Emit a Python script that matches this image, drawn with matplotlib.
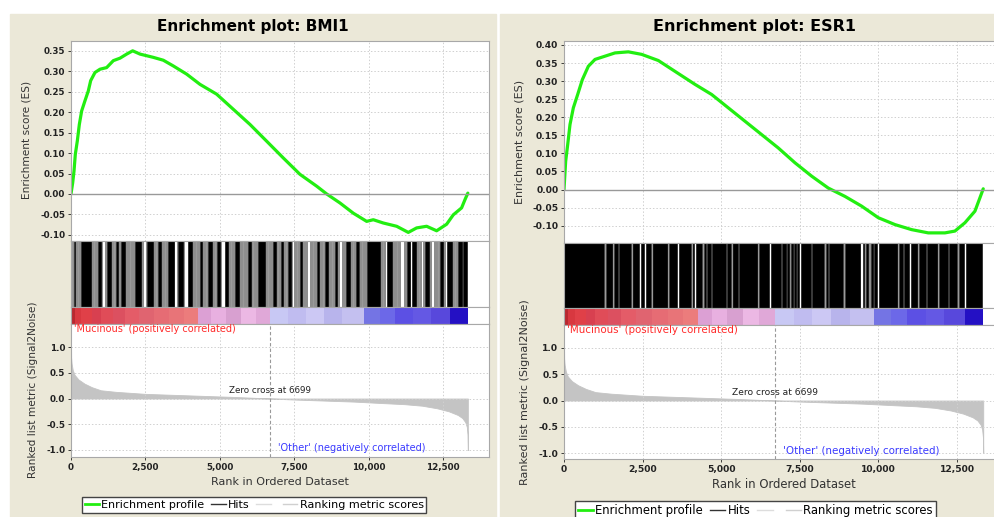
import matplotlib
matplotlib.use("Agg")
import matplotlib.pyplot as plt
from matplotlib.patches import Rectangle
from matplotlib.lines import Line2D

W, H = 995, 517

# ---- data ----
n_genes = 13335
zero_cross = 6699

# ranked list metric (same ranked list for both plots)
metric_rank = [0, 5, 20, 60, 120, 250, 450, 700, 1000, 1500, 2000, 2500, 3500, 4500,
               5500, 6699, 7500, 8500, 9500, 10500, 11200, 11800, 12300, 12700, 13000,
               13150, 13250, 13300, 13325, 13335]
metric_val = [1.18, 0.8, 0.68, 0.55, 0.46, 0.37, 0.29, 0.22, 0.16, 0.13, 0.11, 0.09, 0.07, 0.05,
              0.03, 0.0, -0.02, -0.04, -0.06, -0.09, -0.11, -0.14, -0.19, -0.25, -0.32,
              -0.38, -0.46, -0.55, -0.7, -1.0]

# colour bar of the ranked list
band_edges = [0, 120, 350, 700, 1000, 1400, 1800, 2300, 2800, 3300, 3800, 4270, 4700, 5200,
              5700, 6200, 6699, 7300, 7900, 8500, 9100, 9850, 10400, 10900, 11500, 12100,
              12750, 13335]
band_colors = ['#b82830', '#d83840', '#e04048', '#d84050', '#e04c58', '#dc5060', '#e45c68',
               '#e06470', '#e66c74', '#e87478', '#ec7c7c',
               '#dca0d4', '#e8b0e0', '#d8a0d0', '#ecb8e4', '#e0a8d8',
               '#c8c8f4', '#c0bcf0', '#ccc8f4', '#b8b4ec', '#c4c0f0',
               '#7474e4', '#6c68e8', '#5c50e4', '#6458e4', '#5848dc', '#2410c4']

# BMI1
bmi1_es_rank = [0, 56, 101, 145, 213, 280, 358, 470, 582, 661, 806, 974, 1198, 1423, 1646,
                1871, 2072, 2318, 2766, 3102, 3438, 3886, 4334, 4894, 5454, 6014, 6575,
                7134, 7694, 8256, 8592, 9038, 9486, 9935, 10158, 10494, 10943, 11334,
                11614, 11950, 12286, 12622, 12846, 13125, 13238, 13335]
bmi1_es = [0.0, 0.027, 0.056, 0.097, 0.13, 0.17, 0.203, 0.228, 0.252, 0.277, 0.297, 0.305,
           0.309, 0.326, 0.332, 0.342, 0.350, 0.342, 0.334, 0.327, 0.313, 0.293, 0.268,
           0.244, 0.207, 0.170, 0.129, 0.088, 0.048, 0.019, 0.0, -0.022, -0.047, -0.067,
           -0.063, -0.071, -0.079, -0.094, -0.083, -0.079, -0.090, -0.074, -0.051, -0.034,
           -0.014, 0.002]
# dense runs of hits (black) and sparser runs (grey)
bmi1_hit_spans = [(100, 145), (347, 662), (907, 998), (1220, 1334), (1522, 1579), (1690, 1825),
                  (2140, 2342), (2564, 2765), (2923, 3034), (3259, 3461), (3595, 3763),
                  (3931, 4066), (4324, 4402), (4603, 4738), (4906, 5006), (5164, 5275),
                  (5500, 5634), (5947, 6038), (6283, 6508), (6798, 6888), (7046, 7113),
                  (7302, 7381), (7694, 7762), (8256, 8344), (8534, 8646), (8870, 8927),
                  (9240, 9374), (9576, 9688), (9935, 10382), (10607, 10775), (11279, 11390),
                  (11446, 11592), (11894, 12040), (12398, 12510), (12622, 12790),
                  (13013, 13125), (13181, 13315)]
bmi1_grey_spans = [(0, 90), (150, 340), (670, 900), (1005, 1070), (1150, 1215), (1340, 1515),
                   (1585, 1685), (1830, 2135), (2350, 2445), (2525, 2560), (2770, 2920),
                   (3040, 3255), (3465, 3500), (3575, 3590), (3770, 3835), (4070, 4320),
                   (4405, 4600), (4745, 4900), (5010, 5070), (5280, 5495), (5640, 5940),
                   (6045, 6280), (6515, 6795), (6895, 7040), (7120, 7295), (7385, 7445),
                   (7500, 7690), (7770, 7970), (8035, 8250), (8350, 8530), (8650, 8865),
                   (8930, 9035), (9100, 9235), (9380, 9570), (9695, 9930), (10390, 10600),
                   (10780, 11105), (11205, 11275), (11395, 11440), (11600, 11780),
                   (11840, 11890), (12045, 12115), (12210, 12395), (12515, 12615),
                   (12795, 13005), (13130, 13175)]
bmi1_hit_single = [34, 235, 773, 1445, 1972, 2866, 3148, 4210, 4536, 4838, 5386,
                   5779, 6115, 6619, 6966, 7224, 7604, 8142, 8457, 8770, 9486,
                   9788, 10494, 10964, 11683, 12331, 12902]

# ESR1
esr1_es_rank = [0, 53, 117, 191, 297, 435, 583, 774, 986, 1304, 1622, 2046, 2470, 3000,
                3530, 4166, 4696, 5226, 5756, 6286, 6816, 7346, 7877, 8406, 8936, 9467,
                9996, 10526, 11057, 11585, 12116, 12434, 12752, 13070, 13229, 13335]
esr1_es = [0.0, 0.078, 0.124, 0.18, 0.226, 0.263, 0.304, 0.341, 0.360, 0.369, 0.378, 0.381,
           0.374, 0.357, 0.327, 0.291, 0.263, 0.226, 0.189, 0.152, 0.115, 0.074, 0.037,
           0.004, -0.019, -0.046, -0.078, -0.097, -0.111, -0.120, -0.120, -0.115, -0.092,
           -0.060, -0.023, 0.002]
esr1_hit_spans = [(0, 1280), (1330, 1545), (1590, 1705), (1750, 2130), (2175, 2395),
                  (2440, 2555), (2600, 2765), (2810, 3295), (3340, 3610), (3660, 4035),
                  (4085, 4140), (4190, 4405), (4455, 4515), (4560, 4670), (4720, 5150),
                  (5195, 5310), (5355, 5520), (5570, 6155), (6205, 6530), (6575, 6900),
                  (6945, 7060), (7105, 7165), (7210, 7270), (7315, 7375), (7420, 7480),
                  (7530, 7855), (7900, 8275), (8325, 8385), (8430, 8880), (8930, 9430),
                  (9510, 9550), (9595, 9655), (9755, 9815), (9860, 9970), (10030, 10610),
                  (10655, 10770), (10815, 10980), (11025, 11245), (11290, 11510),
                  (11555, 11880), (11925, 12200), (12245, 12515), (12560, 12730),
                  (12775, 13300)]
esr1_grey_spans = [(7060, 7105), (7165, 7210), (7270, 7315), (7375, 7420), (9430, 9460),
                   (9550, 9595), (9655, 9755), (9815, 9860)]
esr1_hit_single = [1305, 1568, 2152, 2788, 3317, 4059, 4430, 5332, 6180, 8300, 8904,
                   10632, 11268, 11903, 12539]

x_ticks = [0, 2500, 5000, 7500, 10000, 12500]
x_ticklabels = ['0', '2,500', '5,000', '7,500', '10,000', '12,500']
rank_ticks = [1.0, 0.5, 0.0, -0.5, -1.0]

beige = '#ebe8d8'
spine_c = '#a8a8a8'
grid_c = '#d0d0d0'

fig = plt.figure(figsize=(W / 100, H / 100), dpi=100)
fig.patch.set_facecolor('white')


def add_ax(x0, y0, x1, y1):
    return fig.add_axes([x0 / W, 1 - y1 / H, (x1 - x0) / W, (y1 - y0) / H])


def style(ax, s):
    for sp in ax.spines.values():
        sp.set_color(spine_c)
        sp.set_linewidth(0.8)
    ax.tick_params(colors='#222222', labelsize=6.3 * s, length=2, width=0.6, pad=2)
    for t in ax.get_xticklabels() + ax.get_yticklabels():
        t.set_color('#222222')


def panel(name, bg, px0, px1, es_y, hit_y, cb_y, rk_y, es_lim, rk_lim, xmax, es_ticks,
          es_rank, es_val, spans, greys, singles, s, title_xy, eslab_xy, rklab_xy,
          xlab_xy, leg_xy):
    # beige background of the panel
    fig.patches.append(Rectangle((bg[0] / W, 0), (bg[1] - bg[0]) / W, 1 - 14 / H,
                                 transform=fig.transFigure, color=beige, zorder=-10))

    # enrichment score
    ax = add_ax(px0, es_y[0], px1, es_y[1])
    ax.plot(es_rank, es_val, color='#22ee11', lw=2.3, solid_capstyle='round')
    ax.axhline(0, color='#999999', lw=1.0)
    ax.set_xlim(0, xmax)
    ax.set_ylim(*es_lim)
    ax.set_yticks(es_ticks)
    ax.set_yticklabels(['%.2f' % v for v in es_ticks], fontweight='bold')
    ax.set_xticks(x_ticks)
    ax.tick_params(axis='x', length=0, labelbottom=False)
    ax.grid(True, color=grid_c, ls=(0, (1.5, 2)), lw=0.7)
    style(ax, s)

    # hits
    axh = add_ax(px0, hit_y[0], px1, hit_y[1])
    for a, b in greys:
        axh.axvspan(a, b, color='#8e8e8e', lw=0)
    for a, b in spans:
        axh.axvspan(a, b, color='black', lw=0.4)
    axh.vlines(singles, 0, 1, color='#9a9a9a', lw=0.9)
    axh.set_xlim(0, xmax)
    axh.set_ylim(0, 1)
    axh.set_xticks([])
    axh.set_yticks([])
    style(axh, s)

    # colour bar
    axc = add_ax(px0, cb_y[0], px1, cb_y[1])
    widths = [band_edges[i + 1] - band_edges[i] for i in range(len(band_colors))]
    axc.bar(band_edges[:-1], [1] * len(widths), width=widths, align='edge',
            color=band_colors, lw=0)
    axc.set_xlim(0, xmax)
    axc.set_ylim(0, 1)
    axc.set_xticks([])
    axc.set_yticks([])
    style(axc, s)

    # ranked list metric
    axr = add_ax(px0, rk_y[0], px1, rk_y[1])
    axr.fill_between(metric_rank, metric_val, 0, color='#c4c4c4', lw=0.6, edgecolor='#c4c4c4')
    axr.axvline(zero_cross, color='#999999', ls=(0, (3, 2)), lw=0.8)
    axr.set_xlim(0, xmax)
    axr.set_ylim(*rk_lim)
    axr.set_yticks(rank_ticks)
    axr.set_yticklabels(['%.1f' % v for v in rank_ticks], fontweight='bold')
    axr.set_xticks(x_ticks)
    axr.set_xticklabels(x_ticklabels, fontweight='bold')
    axr.grid(True, color=grid_c, ls=(0, (1.5, 2)), lw=0.7)
    style(axr, s)
    axr.text(zero_cross, 0.16, 'Zero cross at %d' % zero_cross, ha='center', va='center',
             fontsize=6.3 * s, color='#222222')
    axr.text(90, rk_lim[1] - 0.09, "'Mucinous' (positively correlated)", ha='left', va='center',
             fontsize=7 * s, color='#ff2a2a')
    axr.text(6950, -0.96, "'Other' (negatively correlated)", ha='left', va='center',
             fontsize=7 * s, color='#3a3aff')

    fig.text(title_xy[0] / W, 1 - title_xy[1] / H, 'Enrichment plot: ' + name,
             ha='center', va='center', fontsize=11 * s, fontweight='bold')
    fig.text(eslab_xy[0] / W, 1 - eslab_xy[1] / H, 'Enrichment score (ES)', rotation=90,
             ha='center', va='center', fontsize=7.6 * s, color='#333333')
    fig.text(rklab_xy[0] / W, 1 - rklab_xy[1] / H, 'Ranked list metric (Signal2Noise)',
             rotation=90, ha='center', va='center', fontsize=7.6 * s, color='#333333')
    fig.text(xlab_xy[0] / W, 1 - xlab_xy[1] / H, 'Rank in Ordered Dataset',
             ha='center', va='center', fontsize=8 * s, color='#333333')

    handles = [Line2D([], [], color='#22ee11', lw=2),
               Line2D([], [], color='#333333', lw=1),
               Line2D([], [], color='#dddddd', lw=1),
               Line2D([], [], color='#d0d0d0', lw=1)]
    labels = ['Enrichment profile', 'Hits', ' ', 'Ranking metric scores']
    leg = fig.legend(handles, labels, loc='upper left',
                     bbox_to_anchor=(leg_xy[0] / W, 1 - leg_xy[1] / H), ncol=4,
                     fontsize=8 * s, frameon=True, fancybox=False, handlelength=1.3,
                     handletextpad=0.2, columnspacing=0.6, borderpad=0.25,
                     borderaxespad=0)
    leg.get_frame().set_edgecolor('#444444')
    leg.get_frame().set_linewidth(1.0)
    leg.get_frame().set_facecolor('white')
    leg.get_frame().set_alpha(1)


panel('BMI1', (10, 496), 71, 489, (41, 241), (241, 307), (307, 324), (324, 457),
      (-0.115, 0.374), (-1.136, 1.447), 14046, [0.35, 0.30, 0.25, 0.20, 0.15, 0.10, 0.05,
                                                 0.00, -0.05, -0.10],
      bmi1_es_rank, bmi1_es, bmi1_hit_spans, bmi1_grey_spans, bmi1_hit_single, 1.0,
      (253, 26), (27, 140), (33, 390), (280, 482), (82, 497))

panel('ESR1', (500, 1000), 564, 1005.6, (41, 243), (243, 308), (308, 325), (325, 459),
      (-0.148, 0.411), (-1.114, 1.438), 14046, [0.40, 0.35, 0.30, 0.25, 0.20, 0.15, 0.10,
                                                 0.05, 0.00, -0.05, -0.10],
      esr1_es_rank, esr1_es, esr1_hit_spans, esr1_grey_spans, esr1_hit_single, 1.05,
      (755, 26), (520, 142), (525, 392), (784, 485), (575, 501))

fig.savefig('out.png', dpi=100)
